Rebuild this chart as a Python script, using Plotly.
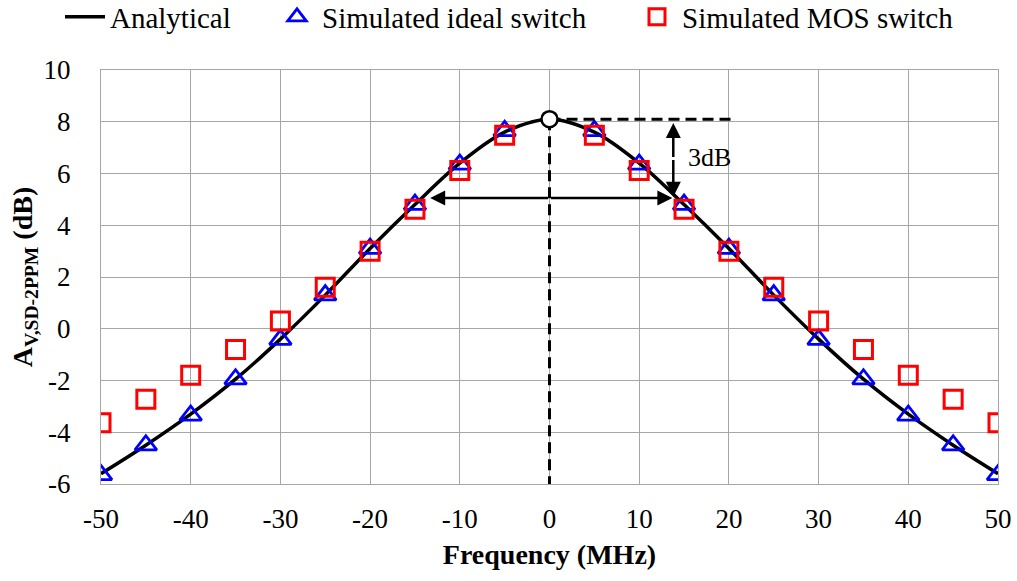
import plotly.graph_objects as go

# Frequency points (MHz)
freq = [-50, -45, -40, -35, -30, -25, -20, -15, -10, -5, 0, 5, 10, 15, 20, 25, 30, 35, 40, 45, 50]
# Analytical curve (dB)
analytical = [-5.6, -4.5, -3.3, -1.95, -0.4, 1.3, 3.1, 4.8, 6.4, 7.6, 8.1, 7.6, 6.4, 4.8, 3.1, 1.3, -0.4, -1.95, -3.3, -4.5, -5.6]
# Simulated ideal switch (dB)
sim_freq = [-50, -45, -40, -35, -30, -25, -20, -15, -10, -5, 5, 10, 15, 20, 25, 30, 35, 40, 45, 50]
ideal = [-5.65, -4.5, -3.35, -1.95, -0.42, 1.3, 3.1, 4.8, 6.35, 7.65, 7.65, 6.35, 4.8, 3.1, 1.3, -0.42, -1.95, -3.35, -4.5, -5.65]
# Simulated MOS switch (dB)
mos = [-3.63, -2.72, -1.8, -0.8, 0.3, 1.6, 3.0, 4.62, 6.12, 7.48, 7.48, 6.12, 4.62, 3.0, 1.6, 0.3, -0.8, -1.8, -2.72, -3.63]

x_ticks = [-50, -40, -30, -20, -10, 0, 10, 20, 30, 40, 50]
y_ticks = [-6, -4, -2, 0, 2, 4, 6, 8, 10]

peak = 8.1
bw_y = 5.05
bw_left = -13.3
bw_right = 13.8
dash_end = 20.3

FONT = "Liberation Serif, DejaVu Serif Condensed, DejaVu Serif, serif"

fig = go.Figure()
fig.add_trace(go.Scatter(x=freq, y=analytical, mode="lines", name="Analytical", legend="legend",
                         line=dict(color="black", width=3.5, shape="spline", smoothing=1.0)))
fig.add_trace(go.Scatter(x=sim_freq, y=ideal, mode="markers", name="Simulated ideal switch", legend="legend2",
                         marker=dict(symbol="triangle-up-open", size=19, color="blue",
                                     line=dict(width=2.8, color="blue"))))
fig.add_trace(go.Scatter(x=sim_freq, y=mos, mode="markers", name="Simulated MOS switch", legend="legend3",
                         marker=dict(symbol="square-open", size=18, color="red",
                                     line=dict(width=3, color="red"))))

# dashed guide lines
fig.add_trace(go.Scatter(x=[0, dash_end], y=[peak, peak], mode="lines", showlegend=False,
                         line=dict(color="black", width=3, dash="11px,6px")))
fig.add_trace(go.Scatter(x=[0, 0], y=[peak, -6], mode="lines", showlegend=False,
                         line=dict(color="black", width=3, dash="11px,6px")))
# peak circle
fig.add_trace(go.Scatter(x=[0], y=[peak], mode="markers", showlegend=False,
                         marker=dict(symbol="circle", size=16, color="white",
                                     line=dict(width=2.5, color="black"))))

# arrows
def arrow(x0, y0, x1, y1):
    fig.add_annotation(x=x1, y=y1, ax=x0, ay=y0, xref="x", yref="y", axref="x", ayref="y",
                       showarrow=True, arrowhead=2, arrowsize=1.2, arrowwidth=2.5,
                       arrowcolor="black", text="")

arrow(bw_right, (peak + bw_y) / 2, bw_right, 7.95)
arrow(bw_right, (peak + bw_y) / 2, bw_right, bw_y + 0.05)
arrow(0, bw_y, bw_left, bw_y)
arrow(0, bw_y, bw_right - 0.1, bw_y)

fig.add_annotation(x=15.2, y=6.6, xref="x", yref="y", text="3dB", showarrow=False,
                   xanchor="left", font=dict(family=FONT, size=26, color="black", weight=400))

leg_common = dict(orientation="h", xref="container", yref="container", xanchor="left",
                  yanchor="middle", y=1 - 17 / 581, bgcolor="rgba(0,0,0,0)",
                  font=dict(family=FONT, size=29, color="black", weight=400), itemwidth=40)

fig.update_layout(
    width=1017, height=581,
    margin=dict(l=101, r=19, t=70, b=97, autoexpand=False),
    paper_bgcolor="white", plot_bgcolor="white",
    font=dict(family=FONT, size=27, color="black"),
    legend=dict(leg_common, x=60 / 1017),
    legend2=dict(leg_common, x=272 / 1017),
    legend3=dict(leg_common, x=632 / 1017),
    showlegend=True,
)
fig.update_xaxes(range=[-50, 50], tickvals=x_ticks, ticktext=[str(v) for v in x_ticks],
                 showgrid=True, gridcolor="#a6a6a6", gridwidth=1.3, zeroline=False,
                 showline=True, linecolor="#a6a6a6", linewidth=1.3, mirror=True,
                 ticks="outside", ticklen=10, tickcolor="rgba(0,0,0,0)", automargin=False,
                 tickfont=dict(family=FONT, size=27, weight=400),
                 title=dict(text="<b>Frequency (MHz)</b>", font=dict(family=FONT, size=28), standoff=11))
fig.update_yaxes(range=[-6, 10], tickvals=y_ticks, ticktext=[str(v) for v in y_ticks],
                 showgrid=True, gridcolor="#a6a6a6", gridwidth=1.3, zeroline=False,
                 showline=True, linecolor="#a6a6a6", linewidth=1.3, mirror=True,
                 ticks="outside", ticklen=24, tickcolor="rgba(0,0,0,0)", automargin=False,
                 tickfont=dict(family=FONT, size=27, weight=400),
                 title=dict(text="<b>A<sub>V,SD-2PPM</sub> (dB)</b>", font=dict(family=FONT, size=28), standoff=2))

fig.write_html("out.html")
